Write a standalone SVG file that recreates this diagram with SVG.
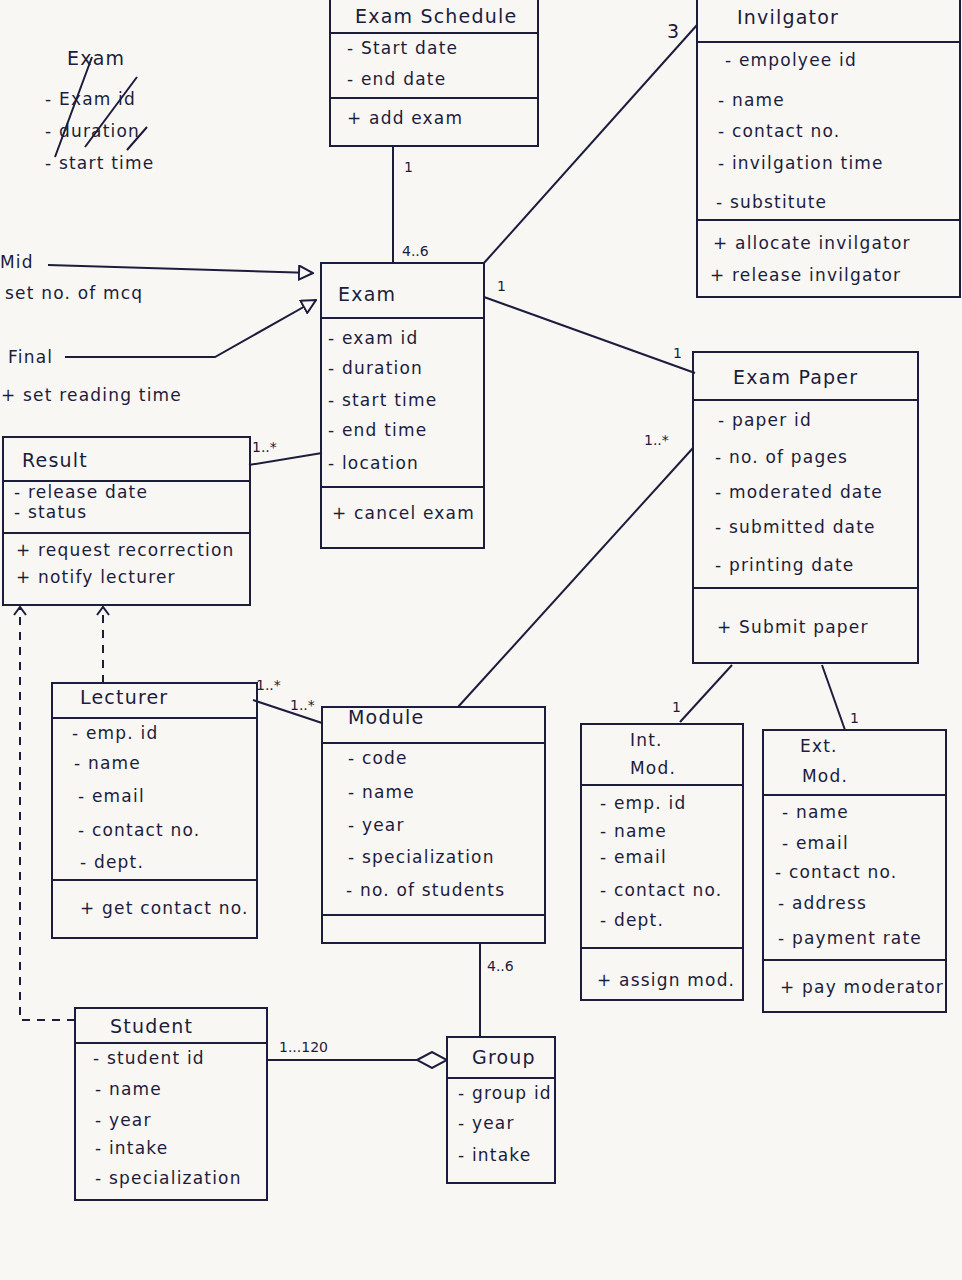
<svg xmlns="http://www.w3.org/2000/svg" width="962" height="1280" viewBox="0 0 962 1280">
<defs>
<style>
.box{fill:none;stroke:#1c1c3c;stroke-width:2}
.ln{fill:none;stroke:#1c1c3c;stroke-width:2}
.dash{fill:none;stroke:#1c1c3c;stroke-width:2;stroke-dasharray:8,7}
text{font-family:"DejaVu Sans","Liberation Sans",sans-serif;fill:#1c1c3c;font-size:17px;letter-spacing:1.2px}
.t{font-size:19px}
.m{font-size:14px;letter-spacing:0}
</style>
<marker id="gen" viewBox="0 0 16 16" refX="15" refY="8" markerWidth="16" markerHeight="16" markerUnits="userSpaceOnUse" orient="auto">
<path d="M1,1 L15,8 L1,15 Z" fill="#f8f7f3" stroke="#1c1c3c" stroke-width="2"/>
</marker>
<marker id="open" viewBox="0 0 14 14" refX="12" refY="7" markerWidth="14" markerHeight="14" markerUnits="userSpaceOnUse" orient="auto">
<path d="M4,1 L12,7 L4,13" fill="none" stroke="#1c1c3c" stroke-width="2"/>
</marker>
<marker id="dia" viewBox="0 0 32 18" refX="31" refY="9" markerWidth="32" markerHeight="18" markerUnits="userSpaceOnUse" orient="auto">
<path d="M1,9 L16,1 L31,9 L16,17 Z" fill="#f8f7f3" stroke="#1c1c3c" stroke-width="2"/>
</marker>
</defs>
<rect width="962" height="1280" fill="#f8f7f3"/>

<g id="note-struck">
<text x="67" y="65" class="t">Exam</text>
<text x="45" y="105">- Exam id</text>
<text x="45" y="137">- duration</text>
<text x="45" y="169">- start time</text>
<path class="ln" d="M55,157 L92,57 M85,147 L137,77 M127,150 L147,127"/>
</g>

<g id="connectors">
<line class="ln" x1="393" y1="146" x2="393" y2="263"/>
<line class="ln" x1="484" y1="263" x2="697" y2="25"/>
<line class="ln" x1="484" y1="297" x2="695" y2="373"/>
<line class="ln" x1="458" y1="707" x2="693" y2="448"/>
<line class="ln" x1="48" y1="265" x2="313" y2="273" marker-end="url(#gen)"/>
<polyline class="ln" points="65,357 215,357 316,300" marker-end="url(#gen)"/>
<line class="ln" x1="249" y1="465" x2="322" y2="453"/>
<line class="ln" x1="253" y1="700" x2="322" y2="723"/>
<line class="ln" x1="480" y1="943" x2="480" y2="1037"/>
<line class="ln" x1="732" y1="665" x2="680" y2="722"/>
<line class="ln" x1="822" y1="665" x2="845" y2="730"/>
<line class="ln" x1="267" y1="1060" x2="447" y2="1060" marker-end="url(#dia)"/>
<polyline class="dash" points="75,1020 20,1020 20,607" marker-end="url(#open)"/>
<line class="dash" x1="103" y1="683" x2="103" y2="607" marker-end="url(#open)"/>
<text x="404" y="172" class="m">1</text>
<text x="402" y="256" class="m">4..6</text>
<text x="667" y="38" class="t">3</text>
<text x="497" y="291" class="m">1</text>
<text x="673" y="358" class="m">1</text>
<text x="644" y="445" class="m">1..*</text>
<text x="252" y="452" class="m">1..*</text>
<text x="256" y="690" class="m">1..*</text>
<text x="290" y="710" class="m">1..*</text>
<text x="487" y="971" class="m">4..6</text>
<text x="672" y="712" class="m">1</text>
<text x="850" y="723" class="m">1</text>
<text x="279" y="1052" class="m">1...120</text>
<text x="0" y="268">Mid</text>
<text x="5" y="299">set no. of  mcq</text>
<text x="8" y="363">Final</text>
<text x="1" y="401">+ set reading time</text>
</g>

<g id="exam-schedule">
<rect class="box" x="330" y="-2" width="208" height="148"/>
<line class="ln" x1="330" y1="33" x2="538" y2="33"/>
<line class="ln" x1="330" y1="98" x2="538" y2="98"/>
<text x="355" y="23" class="t">Exam Schedule</text>
<text x="347" y="54">- Start date</text>
<text x="347" y="85">- end date</text>
<text x="347" y="124">+ add exam</text>
</g>

<g id="invilgator">
<rect class="box" x="697" y="-2" width="263" height="299"/>
<line class="ln" x1="697" y1="42" x2="960" y2="42"/>
<line class="ln" x1="697" y1="220" x2="960" y2="220"/>
<text x="737" y="24" class="t">Invilgator</text>
<text x="725" y="66">- empolyee id</text>
<text x="718" y="106">- name</text>
<text x="718" y="137">- contact no.</text>
<text x="718" y="169">- invilgation time</text>
<text x="716" y="208">- substitute</text>
<text x="713" y="249">+ allocate invilgator</text>
<text x="710" y="281">+ release invilgator</text>
</g>

<g id="exam">
<rect class="box" x="321" y="263" width="163" height="285"/>
<line class="ln" x1="321" y1="318" x2="484" y2="318"/>
<line class="ln" x1="321" y1="487" x2="484" y2="487"/>
<text x="338" y="301" class="t">Exam</text>
<text x="328" y="344">- exam id</text>
<text x="328" y="374">- duration</text>
<text x="328" y="406">- start time</text>
<text x="328" y="436">- end time</text>
<text x="328" y="469">- location</text>
<text x="332" y="519">+ cancel exam</text>
</g>

<g id="exam-paper">
<rect class="box" x="693" y="352" width="225" height="311"/>
<line class="ln" x1="693" y1="400" x2="918" y2="400"/>
<line class="ln" x1="693" y1="588" x2="918" y2="588"/>
<text x="733" y="384" class="t">Exam Paper</text>
<text x="718" y="426">- paper id</text>
<text x="715" y="463">- no. of pages</text>
<text x="715" y="498">- moderated date</text>
<text x="715" y="533">- submitted date</text>
<text x="715" y="571">- printing date</text>
<text x="717" y="633">+ Submit paper</text>
</g>

<g id="result">
<rect class="box" x="3" y="437" width="247" height="168"/>
<line class="ln" x1="3" y1="481" x2="250" y2="481"/>
<line class="ln" x1="3" y1="533" x2="250" y2="533"/>
<text x="22" y="467" class="t">Result</text>
<text x="14" y="498">- release date</text>
<text x="14" y="518">- status</text>
<text x="16" y="556">+ request recorrection</text>
<text x="16" y="583">+ notify lecturer</text>
</g>

<g id="lecturer">
<rect class="box" x="52" y="683" width="205" height="255"/>
<line class="ln" x1="52" y1="718" x2="257" y2="718"/>
<line class="ln" x1="52" y1="880" x2="257" y2="880"/>
<text x="80" y="704" class="t">Lecturer</text>
<text x="72" y="739">- emp. id</text>
<text x="74" y="769">- name</text>
<text x="78" y="802">- email</text>
<text x="78" y="836">- contact no.</text>
<text x="80" y="868">- dept.</text>
<text x="80" y="914">+ get contact no.</text>
</g>

<g id="module">
<rect class="box" x="322" y="707" width="223" height="236"/>
<line class="ln" x1="322" y1="743" x2="545" y2="743"/>
<line class="ln" x1="322" y1="915" x2="545" y2="915"/>
<text x="348" y="724" class="t">Module</text>
<text x="348" y="764">- code</text>
<text x="348" y="798">- name</text>
<text x="348" y="831">- year</text>
<text x="348" y="863">- specialization</text>
<text x="346" y="896">- no. of students</text>
</g>

<g id="int-mod">
<rect class="box" x="581" y="724" width="162" height="276"/>
<line class="ln" x1="581" y1="785" x2="743" y2="785"/>
<line class="ln" x1="581" y1="948" x2="743" y2="948"/>
<text x="630" y="746">Int.</text>
<text x="630" y="774">Mod.</text>
<text x="600" y="809">- emp. id</text>
<text x="600" y="837">- name</text>
<text x="600" y="863">- email</text>
<text x="600" y="896">- contact no.</text>
<text x="600" y="926">- dept.</text>
<text x="597" y="986">+ assign mod.</text>
</g>

<g id="ext-mod">
<rect class="box" x="763" y="730" width="183" height="282"/>
<line class="ln" x1="763" y1="795" x2="946" y2="795"/>
<line class="ln" x1="763" y1="960" x2="946" y2="960"/>
<text x="800" y="752">Ext.</text>
<text x="802" y="782">Mod.</text>
<text x="782" y="818">- name</text>
<text x="782" y="849">- email</text>
<text x="775" y="878">- contact no.</text>
<text x="778" y="909">- address</text>
<text x="778" y="944">- payment rate</text>
<text x="780" y="993">+ pay moderator</text>
</g>

<g id="student">
<rect class="box" x="75" y="1008" width="192" height="192"/>
<line class="ln" x1="75" y1="1043" x2="267" y2="1043"/>
<text x="110" y="1033" class="t">Student</text>
<text x="93" y="1064">- student id</text>
<text x="95" y="1095">- name</text>
<text x="95" y="1126">- year</text>
<text x="95" y="1154">- intake</text>
<text x="95" y="1184">- specialization</text>
</g>

<g id="group">
<rect class="box" x="447" y="1037" width="108" height="146"/>
<line class="ln" x1="447" y1="1078" x2="555" y2="1078"/>
<text x="472" y="1064" class="t">Group</text>
<text x="458" y="1099">- group id</text>
<text x="458" y="1129">- year</text>
<text x="458" y="1161">- intake</text>
</g>
</svg>
